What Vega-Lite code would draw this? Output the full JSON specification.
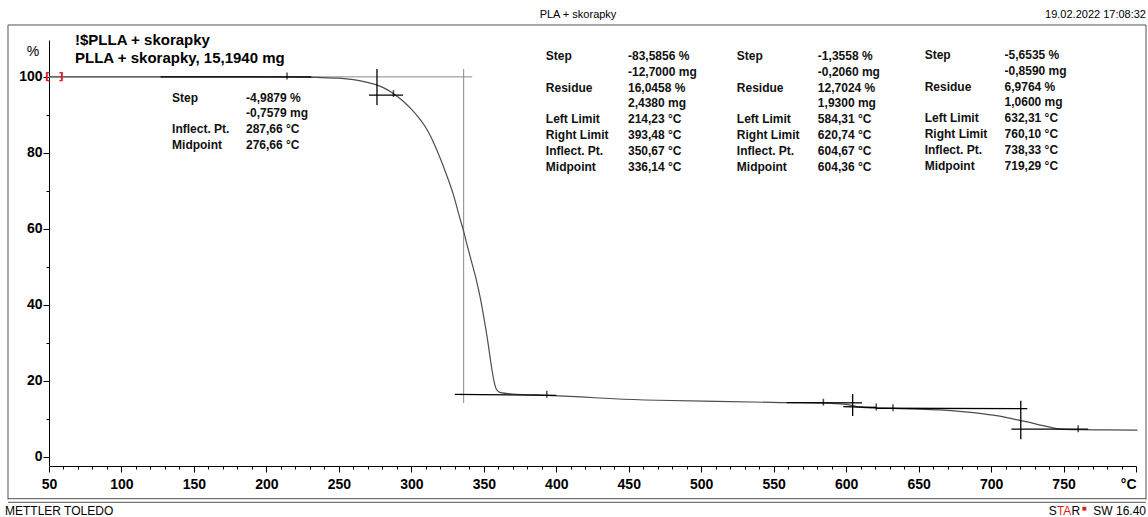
{
  "$schema": "https://vega.github.io/schema/vega-lite/v6.json",
  "width": 1087,
  "height": 426,
  "autosize": {"type": "none"},
  "padding": {"left": 49, "top": 40, "right": 12, "bottom": 51},
  "background": "white",
  "config": {"view": {"stroke": null}, "font": "Liberation Sans"},
  "resolve": {"axis": {"x": "independent", "y": "independent"}},
  "datasets": {
    "curve": [
      {"t": 50, "v": 100.0}, {"t": 100, "v": 100.0}, {"t": 150, "v": 100.0}, {"t": 200, "v": 99.97},
      {"t": 220, "v": 99.93}, {"t": 235, "v": 99.85}, {"t": 250, "v": 99.65}, {"t": 260, "v": 99.25},
      {"t": 268, "v": 98.7}, {"t": 276, "v": 97.9}, {"t": 282, "v": 96.9}, {"t": 288, "v": 95.5},
      {"t": 294, "v": 93.7}, {"t": 300, "v": 91.5}, {"t": 306, "v": 88.8}, {"t": 311, "v": 86.0},
      {"t": 315, "v": 83.0}, {"t": 320, "v": 78.5}, {"t": 324, "v": 74.5}, {"t": 329, "v": 69.0},
      {"t": 333, "v": 63.5}, {"t": 336.2, "v": 59.2}, {"t": 339, "v": 55.0}, {"t": 341.8, "v": 51.0},
      {"t": 344.7, "v": 46.8}, {"t": 347.5, "v": 42.0}, {"t": 350, "v": 36.8}, {"t": 352.6, "v": 30.8},
      {"t": 354.2, "v": 26.6}, {"t": 355.6, "v": 23.0}, {"t": 357.3, "v": 19.5}, {"t": 359, "v": 17.6},
      {"t": 361.5, "v": 16.9}, {"t": 370, "v": 16.55}, {"t": 393.5, "v": 16.2}, {"t": 420, "v": 15.7},
      {"t": 440, "v": 15.3}, {"t": 470, "v": 14.9}, {"t": 510, "v": 14.6}, {"t": 555, "v": 14.3},
      {"t": 584, "v": 14.15}, {"t": 598, "v": 13.9}, {"t": 604.5, "v": 13.5}, {"t": 608, "v": 13.15},
      {"t": 614, "v": 12.95}, {"t": 621, "v": 12.85}, {"t": 632, "v": 12.75}, {"t": 650, "v": 12.55},
      {"t": 667, "v": 12.3}, {"t": 680, "v": 11.9}, {"t": 695, "v": 11.3}, {"t": 705, "v": 10.8},
      {"t": 715, "v": 10.0}, {"t": 725, "v": 9.2}, {"t": 735, "v": 8.3}, {"t": 742, "v": 7.7},
      {"t": 748, "v": 7.3}, {"t": 760, "v": 7.15}, {"t": 780, "v": 7.1}, {"t": 801, "v": 7.05}
    ],
    "tangents": [
      {"t": 127, "t2": 231, "v": 100, "v2": 100},
      {"t": 276.3, "t2": 276.3, "v": 102.07, "v2": 92.59},
      {"t": 270.8, "t2": 294.3, "v": 95.22, "v2": 95.22},
      {"t": 330, "t2": 400, "v": 16.45, "v2": 16.2},
      {"t": 559, "t2": 611, "v": 14.3, "v2": 14.2},
      {"t": 604.5, "t2": 604.5, "v": 16.54, "v2": 10.75},
      {"t": 598, "t2": 621, "v": 13.2, "v2": 13.0},
      {"t": 621, "t2": 725, "v": 12.8, "v2": 12.7},
      {"t": 720.5, "t2": 720.5, "v": 14.78, "v2": 4.62},
      {"t": 714, "t2": 767, "v": 7.3, "v2": 7.3}
    ],
    "grayLines": [
      {"t": 50, "t2": 342, "v": 100, "v2": 100},
      {"t": 336.1, "t2": 336.1, "v": 102.07, "v2": 14.17}
    ],
    "frame": [
      {"t": 21.71, "t2": 806.9, "v": 113.65, "v2": 113.65},
      {"t": 21.71, "t2": 21.71, "v": 113.65, "v2": -11.22},
      {"t": 806.9, "t2": 806.9, "v": 113.65, "v2": -11.22},
      {"t": 21.71, "t2": 806.9, "v": -11.0, "v2": -11.0},
      {"t": 21.71, "t2": 806.9, "v": -11.95, "v2": -11.95}
    ],
    "markers": [
      {"t": 214.23, "v": 100.2}, {"t": 287.66, "v": 95.6}, {"t": 393.48, "v": 16.5},
      {"t": 584.31, "v": 14.4}, {"t": 620.74, "v": 13.1}, {"t": 632.31, "v": 12.95}, {"t": 760.1, "v": 7.4}
    ],
    "titles": [
      {"t": 67.94, "v": 109.7, "txt": "!$PLLA + skorapky"},
      {"t": 67.94, "v": 104.96, "txt": "PLLA + skorapky, 15,1940 mg"}
    ],
    "tables": [
      {"t": 134.9, "v": 94.44, "txt": "Step"},
      {"t": 134.9, "v": 86.28, "txt": "Inflect. Pt."},
      {"t": 134.9, "v": 82.07, "txt": "Midpoint"},
      {"t": 185.9, "v": 94.44, "txt": "-4,9879 %"},
      {"t": 185.9, "v": 90.49, "txt": "-0,7579 mg"},
      {"t": 185.9, "v": 86.28, "txt": "287,66 °C"},
      {"t": 185.9, "v": 82.07, "txt": "276,66 °C"},

      {"t": 392.8, "v": 105.49, "txt": "Step"},
      {"t": 392.8, "v": 97.07, "txt": "Residue"},
      {"t": 392.8, "v": 88.91, "txt": "Left Limit"},
      {"t": 392.8, "v": 84.70, "txt": "Right Limit"},
      {"t": 392.8, "v": 80.49, "txt": "Inflect. Pt."},
      {"t": 392.8, "v": 76.28, "txt": "Midpoint"},
      {"t": 449.5, "v": 105.49, "txt": "-83,5856 %"},
      {"t": 449.5, "v": 101.28, "txt": "-12,7000 mg"},
      {"t": 449.5, "v": 97.07, "txt": "16,0458 %"},
      {"t": 449.5, "v": 93.12, "txt": "2,4380 mg"},
      {"t": 449.5, "v": 88.91, "txt": "214,23 °C"},
      {"t": 449.5, "v": 84.70, "txt": "393,48 °C"},
      {"t": 449.5, "v": 80.49, "txt": "350,67 °C"},
      {"t": 449.5, "v": 76.28, "txt": "336,14 °C"},

      {"t": 524.6, "v": 105.49, "txt": "Step"},
      {"t": 524.6, "v": 97.07, "txt": "Residue"},
      {"t": 524.6, "v": 88.91, "txt": "Left Limit"},
      {"t": 524.6, "v": 84.70, "txt": "Right Limit"},
      {"t": 524.6, "v": 80.49, "txt": "Inflect. Pt."},
      {"t": 524.6, "v": 76.28, "txt": "Midpoint"},
      {"t": 580.5, "v": 105.49, "txt": "-1,3558 %"},
      {"t": 580.5, "v": 101.28, "txt": "-0,2060 mg"},
      {"t": 580.5, "v": 97.07, "txt": "12,7024 %"},
      {"t": 580.5, "v": 93.12, "txt": "1,9300 mg"},
      {"t": 580.5, "v": 88.91, "txt": "584,31 °C"},
      {"t": 580.5, "v": 84.70, "txt": "620,74 °C"},
      {"t": 580.5, "v": 80.49, "txt": "604,67 °C"},
      {"t": 580.5, "v": 76.28, "txt": "604,36 °C"},

      {"t": 654.2, "v": 105.8, "txt": "Step"},
      {"t": 654.2, "v": 97.4, "txt": "Residue"},
      {"t": 654.2, "v": 89.2, "txt": "Left Limit"},
      {"t": 654.2, "v": 85.0, "txt": "Right Limit"},
      {"t": 654.2, "v": 80.8, "txt": "Inflect. Pt."},
      {"t": 654.2, "v": 76.6, "txt": "Midpoint"},
      {"t": 709.3, "v": 105.8, "txt": "-5,6535 %"},
      {"t": 709.3, "v": 101.6, "txt": "-0,8590 mg"},
      {"t": 709.3, "v": 97.4, "txt": "6,9764 %"},
      {"t": 709.3, "v": 93.4, "txt": "1,0600 mg"},
      {"t": 709.3, "v": 89.2, "txt": "632,31 °C"},
      {"t": 709.3, "v": 85.0, "txt": "760,10 °C"},
      {"t": 709.3, "v": 80.8, "txt": "738,33 °C"},
      {"t": 709.3, "v": 76.6, "txt": "719,29 °C"}
    ],
    "headerCenter": [{"t": 415.0, "v": 116.28, "txt": "PLA + skorapky"}],
    "headerRight": [{"t": 806.9, "v": 116.28, "txt": "19.02.2022 17:08:32"}],
    "footerLeft": [{"t": 19.64, "v": -14.25, "txt": "METTLER TOLEDO"}],
    "footerRight": [
      {"t": 806.9, "v": -14.25, "txt": "SW 16.40"},
      {"t": 761.4, "v": -14.25, "txt": "R"},
      {"t": 745.3, "v": -14.25, "txt": "S"}
    ],
    "footerRed": [{"t": 755.4, "v": -14.25, "txt": "TA"}],
    "redSquare": [{"t": 762.8, "v": -13.4, "txt": "■"}],
    "brackets": [{"t": 49.0, "v": 100, "txt": "["}, {"t": 58.4, "v": 100, "txt": "]"}],
    "unit": [{"t": 38.96, "v": 106.6, "txt": "%"}]
  },
  "layer": [
    {
      "data": {"name": "grayLines"},
      "mark": {"type": "rule", "color": "#8a8a8a", "strokeWidth": 1},
      "encoding": {
        "x": {"field": "t", "type": "quantitative", "scale": {"domain": [50, 800], "nice": false, "zero": false}, "axis": null},
        "x2": {"field": "t2"},
        "y": {"field": "v", "type": "quantitative", "scale": {"domain": [-2.4, 109.7], "nice": false, "zero": false}, "axis": null},
        "y2": {"field": "v2"}
      }
    },
    {
      "data": {"name": "curve"},
      "mark": {"type": "line", "color": "#4d4d4d", "strokeWidth": 1.2, "interpolate": "monotone"},
      "encoding": {
        "x": {
          "field": "t", "type": "quantitative",
          "scale": {"domain": [50, 800], "nice": false, "zero": false},
          "axis": {
            "orient": "bottom", "title": null, "grid": false,
            "values": [50, 100, 150, 200, 250, 300, 350, 400, 450, 500, 550, 600, 650, 700, 750, 800],
            "domainColor": "#000", "domainWidth": 1, "tickColor": "#000", "tickSize": 6, "tickWidth": 1,
            "labelFont": "Liberation Sans", "labelFontSize": 14, "labelFontWeight": "bold", "labelColor": "#000",
            "labelPadding": 5, "labelFlush": false, "labelOverlap": false,
            "labelExpr": "datum.value == 800 ? '°C' : datum.label",
            "labelAlign": {"condition": {"test": "datum.value == 800", "value": "right"}, "value": "center"}
          }
        },
        "y": {
          "field": "v", "type": "quantitative",
          "scale": {"domain": [-2.4, 109.7], "nice": false, "zero": false},
          "axis": {
            "orient": "left", "title": null, "grid": false,
            "values": [0, 20, 40, 60, 80, 100],
            "domainColor": "#000", "domainWidth": 1, "tickColor": "#000", "tickSize": 6, "tickWidth": 1,
            "labelFont": "Liberation Sans", "labelFontSize": 14, "labelFontWeight": "bold", "labelColor": "#000",
            "labelPadding": 1
          }
        }
      }
    },
    {
      "data": {"name": "tangents"},
      "mark": {"type": "rule", "color": "#000", "strokeWidth": 1.3},
      "encoding": {
        "x": {
          "field": "t", "type": "quantitative",
          "scale": {"domain": [50, 800], "nice": false, "zero": false},
          "axis": {
            "orient": "bottom", "title": null, "grid": false, "labels": false, "domain": false,
            "values": [60,70,80,90,110,120,130,140,160,170,180,190,210,220,230,240,260,270,280,290,310,320,330,340,360,370,380,390,410,420,430,440,460,470,480,490,510,520,530,540,560,570,580,590,610,620,630,640,660,670,680,690,710,720,730,740,760,770,780,790],
            "tickColor": "#000", "tickSize": 3, "tickWidth": 1
          }
        },
        "x2": {"field": "t2"},
        "y": {
          "field": "v", "type": "quantitative",
          "scale": {"domain": [-2.4, 109.7], "nice": false, "zero": false},
          "axis": {
            "orient": "left", "title": null, "grid": false, "labels": false, "domain": false,
            "values": [10, 30, 50, 70, 90],
            "tickColor": "#000", "tickSize": 3, "tickWidth": 1
          }
        },
        "y2": {"field": "v2"}
      }
    },
    {
      "data": {"name": "frame"},
      "mark": {"type": "rule", "color": "#555", "strokeWidth": 1},
      "encoding": {
        "x": {"field": "t", "type": "quantitative", "scale": {"domain": [50, 800], "nice": false, "zero": false}, "axis": null},
        "x2": {"field": "t2"},
        "y": {"field": "v", "type": "quantitative", "scale": {"domain": [-2.4, 109.7], "nice": false, "zero": false}, "axis": null},
        "y2": {"field": "v2"}
      }
    },
    {
      "data": {"name": "markers"},
      "mark": {"type": "tick", "orient": "vertical", "color": "#000", "size": 7, "thickness": 1.5},
      "encoding": {
        "x": {"field": "t", "type": "quantitative", "scale": {"domain": [50, 800], "nice": false, "zero": false}, "axis": null},
        "y": {"field": "v", "type": "quantitative", "scale": {"domain": [-2.4, 109.7], "nice": false, "zero": false}, "axis": null}
      }
    },
    {
      "data": {"name": "titles"},
      "mark": {"type": "text", "align": "left", "baseline": "middle", "font": "Liberation Sans", "fontSize": 15, "fontWeight": "bold", "color": "#000"},
      "encoding": {
        "x": {"field": "t", "type": "quantitative", "scale": {"domain": [50, 800], "nice": false, "zero": false}, "axis": null},
        "y": {"field": "v", "type": "quantitative", "scale": {"domain": [-2.4, 109.7], "nice": false, "zero": false}, "axis": null},
        "text": {"field": "txt"}
      }
    },
    {
      "data": {"name": "tables"},
      "mark": {"type": "text", "align": "left", "baseline": "middle", "font": "Liberation Sans", "fontSize": 12, "fontWeight": "bold", "color": "#111"},
      "encoding": {
        "x": {"field": "t", "type": "quantitative", "scale": {"domain": [50, 800], "nice": false, "zero": false}, "axis": null},
        "y": {"field": "v", "type": "quantitative", "scale": {"domain": [-2.4, 109.7], "nice": false, "zero": false}, "axis": null},
        "text": {"field": "txt"}
      }
    },
    {
      "data": {"name": "headerCenter"},
      "mark": {"type": "text", "align": "center", "baseline": "middle", "font": "Liberation Sans", "fontSize": 11, "color": "#000"},
      "encoding": {
        "x": {"field": "t", "type": "quantitative", "scale": {"domain": [50, 800], "nice": false, "zero": false}, "axis": null},
        "y": {"field": "v", "type": "quantitative", "scale": {"domain": [-2.4, 109.7], "nice": false, "zero": false}, "axis": null},
        "text": {"field": "txt"}
      }
    },
    {
      "data": {"name": "headerRight"},
      "mark": {"type": "text", "align": "right", "baseline": "middle", "font": "Liberation Sans", "fontSize": 11, "color": "#000"},
      "encoding": {
        "x": {"field": "t", "type": "quantitative", "scale": {"domain": [50, 800], "nice": false, "zero": false}, "axis": null},
        "y": {"field": "v", "type": "quantitative", "scale": {"domain": [-2.4, 109.7], "nice": false, "zero": false}, "axis": null},
        "text": {"field": "txt"}
      }
    },
    {
      "data": {"name": "footerLeft"},
      "mark": {"type": "text", "align": "left", "baseline": "middle", "font": "Liberation Sans", "fontSize": 12, "color": "#000"},
      "encoding": {
        "x": {"field": "t", "type": "quantitative", "scale": {"domain": [50, 800], "nice": false, "zero": false}, "axis": null},
        "y": {"field": "v", "type": "quantitative", "scale": {"domain": [-2.4, 109.7], "nice": false, "zero": false}, "axis": null},
        "text": {"field": "txt"}
      }
    },
    {
      "data": {"name": "footerRight"},
      "mark": {"type": "text", "align": "right", "baseline": "middle", "font": "Liberation Sans", "fontSize": 12, "color": "#000"},
      "encoding": {
        "x": {"field": "t", "type": "quantitative", "scale": {"domain": [50, 800], "nice": false, "zero": false}, "axis": null},
        "y": {"field": "v", "type": "quantitative", "scale": {"domain": [-2.4, 109.7], "nice": false, "zero": false}, "axis": null},
        "text": {"field": "txt"}
      }
    },
    {
      "data": {"name": "footerRed"},
      "mark": {"type": "text", "align": "right", "baseline": "middle", "font": "Liberation Sans", "fontSize": 12, "color": "#e0201b"},
      "encoding": {
        "x": {"field": "t", "type": "quantitative", "scale": {"domain": [50, 800], "nice": false, "zero": false}, "axis": null},
        "y": {"field": "v", "type": "quantitative", "scale": {"domain": [-2.4, 109.7], "nice": false, "zero": false}, "axis": null},
        "text": {"field": "txt"}
      }
    },
    {
      "data": {"name": "redSquare"},
      "mark": {"type": "text", "align": "left", "baseline": "middle", "font": "DejaVu Sans", "fontSize": 5, "color": "#e0201b"},
      "encoding": {
        "x": {"field": "t", "type": "quantitative", "scale": {"domain": [50, 800], "nice": false, "zero": false}, "axis": null},
        "y": {"field": "v", "type": "quantitative", "scale": {"domain": [-2.4, 109.7], "nice": false, "zero": false}, "axis": null},
        "text": {"field": "txt"}
      }
    },
    {
      "data": {"name": "brackets"},
      "mark": {"type": "text", "align": "center", "baseline": "middle", "font": "DejaVu Sans", "fontSize": 11, "fontWeight": "bold", "color": "#e8161b"},
      "encoding": {
        "x": {"field": "t", "type": "quantitative", "scale": {"domain": [50, 800], "nice": false, "zero": false}, "axis": null},
        "y": {"field": "v", "type": "quantitative", "scale": {"domain": [-2.4, 109.7], "nice": false, "zero": false}, "axis": null},
        "text": {"field": "txt"}
      }
    },
    {
      "data": {"name": "unit"},
      "mark": {"type": "text", "align": "center", "baseline": "middle", "font": "Liberation Sans", "fontSize": 14, "color": "#000"},
      "encoding": {
        "x": {"field": "t", "type": "quantitative", "scale": {"domain": [50, 800], "nice": false, "zero": false}, "axis": null},
        "y": {"field": "v", "type": "quantitative", "scale": {"domain": [-2.4, 109.7], "nice": false, "zero": false}, "axis": null},
        "text": {"field": "txt"}
      }
    }
  ]
}
